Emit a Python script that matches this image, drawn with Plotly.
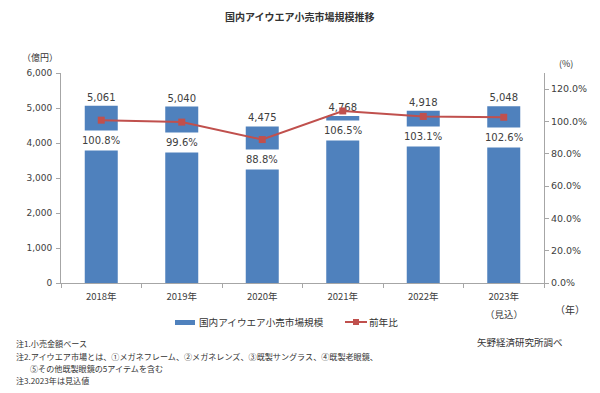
import plotly.graph_objects as go

years = ["2018年", "2019年", "2020年", "2021年", "2022年", "2023年"]
market = [5061, 5040, 4475, 4768, 4918, 5048]
yoy = [100.8, 99.6, 88.8, 106.5, 103.1, 102.6]
left_ticks = [0, 1000, 2000, 3000, 4000, 5000, 6000]
right_ticks = [0, 20, 40, 60, 80, 100, 120]
right_tick_labels = ["0.0%", "20.0%", "40.0%", "60.0%", "80.0%", "100.0%", "120.0%"]
series_names = ["国内アイウエア小売市場規模", "前年比"]
estimate_note = "（見込）"

BLUE = "#4F81BD"
RED = "#C0504D"
TXT = "#404040"
NUM_FONT = "DejaVu Sans"
JP_FONT = "Noto Sans CJK JP"

# the page body has an 8px margin, so the figure is drawn 8px smaller
W, H = 592, 385
L, R, T, B = 53, 56, 65, 110
PW, PH = W - L - R, H - T - B


def px(x):
    # reference-picture pixel x -> paper coordinate
    return (x - 8 - L) / PW


def py(y):
    return (H - B - (y - 8)) / PH


fig = go.Figure()
fig.add_trace(go.Bar(
    x=years, y=market, name=series_names[0],
    marker=dict(color=BLUE, line=dict(width=0)), width=0.41,
    text=market, texttemplate="%{y:,}", textposition="outside",
    textfont=dict(family=NUM_FONT, size=10, color=TXT), cliponaxis=False,
))
fig.add_trace(go.Scatter(
    x=years, y=yoy, name=series_names[1], yaxis="y2", mode="lines+markers",
    line=dict(color=RED, width=2), marker=dict(color=RED, size=7, symbol="square"),
))

annotations = []
for xv, v in zip(years, yoy):
    annotations.append(dict(
        x=xv, y=v, xref="x", yref="y2", text=f"{v:.1f}%", showarrow=False,
        yshift=-20, bgcolor="white", borderpad=4,
        font=dict(family=NUM_FONT, size=10, color=TXT),
    ))

annotations.append(dict(
    x=years[-1], y=py(314), xref="x", yref="paper", text=estimate_note, showarrow=False,
    yanchor="middle", font=dict(family=JP_FONT, size=9.5, color=TXT),
))


def note(text, x, y, xanchor="left", size=9, family=JP_FONT, color="#333333"):
    annotations.append(dict(
        x=px(x), y=py(y), xref="paper", yref="paper", text=text, showarrow=False,
        xanchor=xanchor, yanchor="middle", font=dict(family=family, size=size, color=color),
    ))


note("<b>国内アイウエア小売市場規模推移</b>", 300, 16, "center", 10, color="#333333")
note("（億円）", 20, 57, "left", 9)
note("(%)", 566, 64, "center", 9)
note("（年）", 570, 309, "center", 10)
note("注1.小売金額ベース", 14, 343, "left", 8.1)
note("注2.アイウエア市場とは、①メガネフレーム、②メガネレンズ、③既製サングラス、④既製老眼鏡、", 14, 356, "left", 8.1)
note("⑤その他既製眼鏡の5アイテムを含む", 28, 368, "left", 8.1)
note("注3.2023年は見込値", 14, 380, "left", 8.1)
note("矢野経済研究所調べ", 475, 342, "left", 9.5)

# custom legend
note(series_names[0], 197, 322, "left", 9.6)
note(series_names[1], 367, 322, "left", 9.6)
shapes = [
    dict(type="rect", xref="paper", yref="paper", x0=px(175), x1=px(195), y0=py(320), y1=py(325),
         fillcolor=BLUE, line=dict(width=0)),
    dict(type="line", xref="paper", yref="paper", x0=px(345), x1=px(367), y0=py(322), y1=py(322),
         line=dict(color=RED, width=2)),
    dict(type="rect", xref="paper", yref="paper", x0=px(353), x1=px(359), y0=py(319), y1=py(325),
         fillcolor=RED, line=dict(width=0)),
]

fig.update_layout(
    width=W, height=H, margin=dict(l=L, r=R, t=T, b=B),
    paper_bgcolor="white", plot_bgcolor="white",
    showlegend=False,
    xaxis=dict(
        showline=True, linecolor="#A6A6A6", ticks="outside", tickson="boundaries",
        ticklen=4, tickcolor="#A6A6A6", ticklabelstandoff=5,
        tickfont=dict(family=JP_FONT, size=9.5, color=TXT), showgrid=False,
    ),
    yaxis=dict(
        range=[0, 6000], tickvals=left_ticks, tickformat=",", showline=True,
        linecolor="#A6A6A6", ticks="outside", ticklen=4, tickcolor="#A6A6A6",
        ticklabelstandoff=2,
        tickfont=dict(family=NUM_FONT, size=9, color=TXT), showgrid=False, zeroline=False,
    ),
    yaxis2=dict(
        range=[0, 130], tickvals=right_ticks, ticktext=right_tick_labels,
        overlaying="y", side="right", showline=True, linecolor="#A6A6A6",
        ticks="outside", ticklen=4, tickcolor="#A6A6A6",
        tickfont=dict(family=NUM_FONT, size=9.5, color=TXT), showgrid=False, zeroline=False,
    ),
    annotations=annotations,
    shapes=shapes,
)

fig.write_html("out.html")
